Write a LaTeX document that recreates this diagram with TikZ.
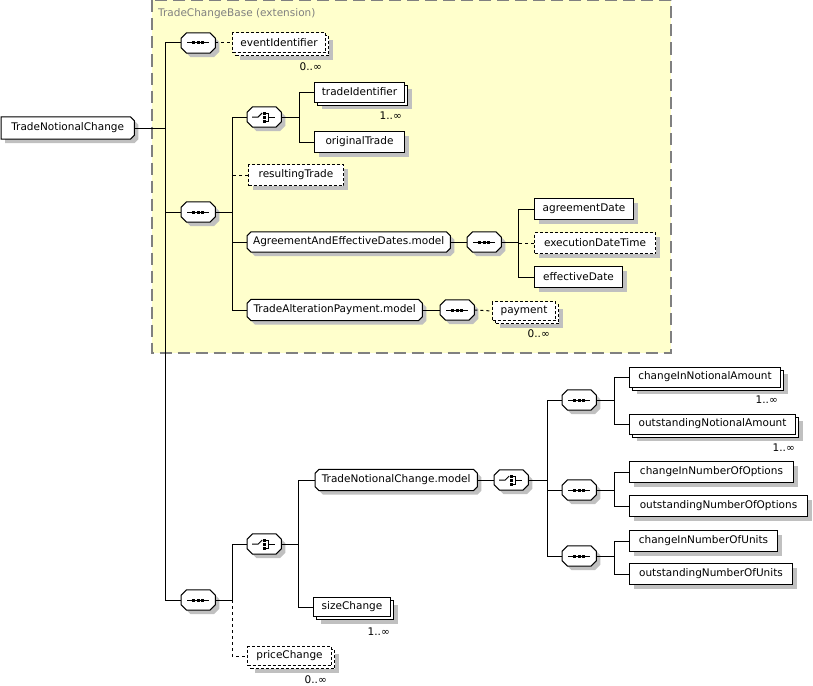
\documentclass[tikz,border=0pt]{standalone}
\usepackage{fontspec}
\setmainfont{DejaVu Sans}
\usetikzlibrary{shadows}
\pgfdeclarelayer{back}
\pgfdeclarelayer{background}
\pgfsetlayers{back,background,main}
\definecolor{shadowgray}{RGB}{192,192,192}
\definecolor{extyellow}{RGB}{255,255,204}
\definecolor{extborder}{RGB}{128,128,128}
\tikzset{
  base/.style={draw=black, fill=white, line width=1pt, inner sep=0pt,
    font=\fontsize{10.5}{12}\selectfont, minimum height=21pt, anchor=west},
  shad/.style={drop shadow={shadow xshift=4pt, shadow yshift=-4pt, fill=shadowgray, opacity=1}},
  elem/.style={base, rectangle, shad},
  optelem/.style={elem, dash pattern=on 3pt off 2pt},
  multi/.style={base, rectangle,
    drop shadow={shadow xshift=7pt, shadow yshift=-7pt, fill=shadowgray, opacity=1},
    general shadow={shadow xshift=3pt, shadow yshift=-3pt, draw=black, fill=white, line width=1pt, solid}},
  optmulti/.style={base, rectangle, dash pattern=on 3pt off 2pt,
    drop shadow={shadow xshift=7pt, shadow yshift=-7pt, fill=shadowgray, opacity=1},
    general shadow={shadow xshift=3pt, shadow yshift=-3pt, draw=black, fill=white, line width=1pt, dash pattern=on 3pt off 2pt}},
  bare/.style={rectangle, draw=none, fill=none, inner sep=0pt,
    font=\fontsize{10.5}{12}\selectfont, minimum height=21pt, anchor=west},
  comp/.style={bare, minimum width=34pt, minimum height=20pt},
  outline/.style={fill=white, draw=black, line width=1pt},
  conn/.style={line width=1pt, draw=black},
  optconn/.style={conn, dash pattern=on 3pt off 3pt},
  mult/.style={font=\fontsize{10.5}{12}\selectfont, inner sep=0pt, anchor=east},
}
% chamfered path around node #1, chamfer #2, offset (#3,#4)
\newcommand\octpath[4]{([xshift=#2+#3,yshift=#4]#1.north west) -- ([xshift=-#2+#3,yshift=#4]#1.north east) -- ([xshift=#3,yshift=-#2+#4]#1.north east) -- ([xshift=#3,yshift=#2+#4]#1.south east) -- ([xshift=-#2+#3,yshift=#4]#1.south east) -- ([xshift=#2+#3,yshift=#4]#1.south west) -- ([xshift=#3,yshift=#2+#4]#1.south west) -- ([xshift=#3,yshift=-#2+#4]#1.north west) -- cycle}
\newcommand\rtpath[4]{([xshift=#3,yshift=#4]#1.north west) -- ([xshift=-#2+#3,yshift=#4]#1.north east) -- ([xshift=#3,yshift=-#2+#4]#1.north east) -- ([xshift=#3,yshift=#2+#4]#1.south east) -- ([xshift=-#2+#3,yshift=#4]#1.south east) -- ([xshift=#3,yshift=#4]#1.south west) -- cycle}
\newcommand\octshape[2]{\begin{pgfonlayer}{background}\fill[shadowgray] \octpath{#1}{#2}{4pt}{-4pt}; \path[outline] \octpath{#1}{#2}{0pt}{0pt};\end{pgfonlayer}}
\newcommand\rtshape[2]{\begin{pgfonlayer}{background}\fill[shadowgray] \rtpath{#1}{#2}{4pt}{-4pt}; \path[outline] \rtpath{#1}{#2}{0pt}{0pt};\end{pgfonlayer}}
\newcommand\seqicon[1]{%
  \draw[line width=1pt, black] ([xshift=-11pt]#1.center) -- ([xshift=11pt]#1.center);
  \fill[black] ([xshift=-6pt,yshift=-1.5pt]#1.center) rectangle ([xshift=-3pt,yshift=1.5pt]#1.center);
  \fill[black] ([xshift=-1.5pt,yshift=-1.5pt]#1.center) rectangle ([xshift=1.5pt,yshift=1.5pt]#1.center);
  \fill[black] ([xshift=3pt,yshift=-1.5pt]#1.center) rectangle ([xshift=6pt,yshift=1.5pt]#1.center);}
\newcommand\choiceicon[1]{%
  \draw[line width=1pt, black] ([xshift=-12pt]#1.center) -- ([xshift=-6pt]#1.center) -- ([xshift=-2pt, yshift=4pt]#1.center);
  \fill[black] ([xshift=-1.5pt,yshift=2.5pt]#1.center) rectangle ([xshift=1.5pt,yshift=5.5pt]#1.center);
  \fill[black] ([xshift=-1.5pt,yshift=-1.5pt]#1.center) rectangle ([xshift=1.5pt,yshift=1.5pt]#1.center);
  \fill[black] ([xshift=-1.5pt,yshift=-5.5pt]#1.center) rectangle ([xshift=1.5pt,yshift=-2.5pt]#1.center);
  \draw[line width=1pt, black] ([xshift=1.5pt, yshift=4pt]#1.center) -- ([xshift=4.5pt, yshift=4pt]#1.center) -- ([xshift=4.5pt, yshift=-4pt]#1.center) -- ([xshift=1.5pt, yshift=-4pt]#1.center);
  \draw[line width=1pt, black] ([xshift=4.5pt]#1.center) -- ([xshift=11pt]#1.center);}
\begin{document}
\begin{tikzpicture}[x=1pt, y=-1pt]
\useasboundingbox (0,0) rectangle (813,685);
% extension area
\begin{pgfonlayer}{back}
\filldraw[fill=extyellow, draw=extborder, line width=1.3pt, dash pattern=on 12pt off 6pt] (152,0.5) rectangle (671,353);
\end{pgfonlayer}
\node[anchor=west, inner sep=0pt, text=extborder, font=\fontsize{10.5}{12}\selectfont] (extlabel) at (158,14) {TradeChangeBase (extension)};

% nodes
\node[bare, minimum width=133pt, minimum height=22pt] (root) at (1,128) {TradeNotionalChange};
\rtshape{root}{4pt}
\node[comp] (seqA) at (181,43) {};
\node[optmulti, minimum width=93pt, minimum height=20pt] (eventIdentifier) at (232,43) {eventIdentifier};
\node[mult] (mA) at (322,67) {0..∞};
\node[comp] (seqB) at (181,212) {};
\node[comp] (choiceA) at (247,117) {};
\node[multi, minimum width=90pt, minimum height=20pt] (tradeIdentifier) at (314,92) {tradeIdentifier};
\node[mult] (mB) at (402,116) {1..∞};
\node[elem, minimum width=90pt] (originalTrade) at (314,142) {originalTrade};
\node[optelem, minimum width=95pt] (resultingTrade) at (248,175) {resultingTrade};
\node[bare, minimum width=203pt, minimum height=20pt] (agreeModel) at (247,242) {AgreementAndEffectiveDates.model};
\node[comp] (seqC) at (467,242) {};
\node[elem, minimum width=99pt] (agreementDate) at (534,209) {agreementDate};
\node[optelem, minimum width=121pt] (executionDateTime) at (534,243) {executionDateTime};
\node[elem, minimum width=88pt] (effectiveDate) at (534,277) {effectiveDate};
\node[bare, minimum width=175pt] (tapModel) at (247,310) {TradeAlterationPayment.model};
\node[comp] (seqD) at (440,310) {};
\node[optmulti, minimum width=63pt, minimum height=19pt] (payment) at (492,311) {payment};
\node[mult] (mC) at (550,334) {0..∞};

\node[comp] (seqE) at (181,600) {};
\node[comp] (choiceB) at (247,544) {};
\node[bare, minimum width=162pt] (tncModel) at (315,480) {TradeNotionalChange.model};
\node[comp] (choiceC) at (494,480) {};
\node[multi, minimum width=77pt, minimum height=19pt] (sizeChange) at (313,607) {sizeChange};
\node[mult] (mD) at (390,632) {1..∞};
\node[optmulti, minimum width=84pt, minimum height=19pt] (priceChange) at (247,656) {priceChange};
\node[mult] (mE) at (327,680) {0..∞};
\node[comp] (seqF) at (562,400) {};
\node[comp] (seqG) at (562,490) {};
\node[comp] (seqH) at (562,556) {};
\node[multi, minimum width=151pt, minimum height=20pt] (cna) at (629,377) {changeInNotionalAmount};
\node[mult] (mF) at (778,400) {1..∞};
\node[multi, minimum width=166pt, minimum height=20pt] (ona) at (629,424) {outstandingNotionalAmount};
\node[mult] (mG) at (795,448) {1..∞};
\node[elem, minimum width=164pt] (cnoo) at (629,472) {changeInNumberOfOptions};
\node[elem, minimum width=178pt] (onoo) at (629,506) {outstandingNumberOfOptions};
\node[elem, minimum width=148pt] (cnou) at (629,541) {changeInNumberOfUnits};
\node[elem, minimum width=163pt] (onou) at (629,574) {outstandingNumberOfUnits};

% compositor and group outlines
\foreach \n in {seqA,seqB,seqC,seqD,seqE,seqF,seqG,seqH,choiceA,choiceB,choiceC} {\octshape{\n}{5.5pt}}
\foreach \n in {agreeModel,tapModel,tncModel} {\octshape{\n}{4pt}}
\foreach \n in {seqA,seqB,seqC,seqD,seqE,seqF,seqG,seqH} {\seqicon{\n}}
\foreach \n in {choiceA,choiceB,choiceC} {\choiceicon{\n}}

% bus coordinates
\coordinate (b1) at (165,0);
\coordinate (b2) at (232,0);
\coordinate (b3) at (299,0);
\coordinate (b4) at (518,0);
\coordinate (b5) at (298,0);
\coordinate (b6) at (547,0);
\coordinate (b7) at (614,0);

% connectors
\draw[conn] (root.east) -- (root.east -| b1);
\draw[conn] (seqA.west) -- (seqA.west -| b1) -- (seqE.west -| b1) -- (seqE.west);
\draw[conn] (seqB.west) -- (seqB.west -| b1);
\draw[optconn] (seqA.east) -- (eventIdentifier.west);

\draw[conn] (seqB.east) -- (seqB.east -| b2);
\draw[conn] (choiceA.west) -- (choiceA.west -| b2) -- (tapModel.west -| b2) -- (tapModel.west);
\draw[optconn] (resultingTrade.west) -- (resultingTrade.west -| b2);
\draw[conn] (agreeModel.west) -- (agreeModel.west -| b2);

\draw[conn] (choiceA.east) -- (choiceA.east -| b3);
\draw[conn] (tradeIdentifier.west) -- (tradeIdentifier.west -| b3) -- (originalTrade.west -| b3) -- (originalTrade.west);

\draw[conn] (agreeModel.east) -- (seqC.west);
\draw[conn] (seqC.east) -- (seqC.east -| b4);
\draw[conn] (agreementDate.west) -- (agreementDate.west -| b4) -- (effectiveDate.west -| b4) -- (effectiveDate.west);
\draw[optconn] (executionDateTime.west) -- (executionDateTime.west -| b4);

\draw[conn] (tapModel.east) -- (seqD.west);
\draw[optconn] (seqD.east) -- (payment.west);

\draw[conn] (seqE.east) -- (seqE.east -| b2);
\draw[conn] (choiceB.west) -- (choiceB.west -| b2) -- (seqE.east -| b2);
\draw[optconn] (seqE.east -| b2) -- (priceChange.west -| b2) -- (priceChange.west);

\draw[conn] (choiceB.east) -- (choiceB.east -| b5);
\draw[conn] (tncModel.west) -- (tncModel.west -| b5) -- (sizeChange.west -| b5) -- (sizeChange.west);
\draw[conn] (tncModel.east) -- (choiceC.west);

\draw[conn] (choiceC.east) -- (choiceC.east -| b6);
\draw[conn] (seqF.west) -- (seqF.west -| b6) -- (seqH.west -| b6) -- (seqH.west);
\draw[conn] (seqG.west) -- (seqG.west -| b6);

\draw[conn] (seqF.east) -- (seqF.east -| b7);
\draw[conn] (cna.west) -- (cna.west -| b7) -- (ona.west -| b7) -- (ona.west);
\draw[conn] (seqG.east) -- (seqG.east -| b7);
\draw[conn] (cnoo.west) -- (cnoo.west -| b7) -- (onoo.west -| b7) -- (onoo.west);
\draw[conn] (seqH.east) -- (seqH.east -| b7);
\draw[conn] (cnou.west) -- (cnou.west -| b7) -- (onou.west -| b7) -- (onou.west);
\end{tikzpicture}
\end{document}
